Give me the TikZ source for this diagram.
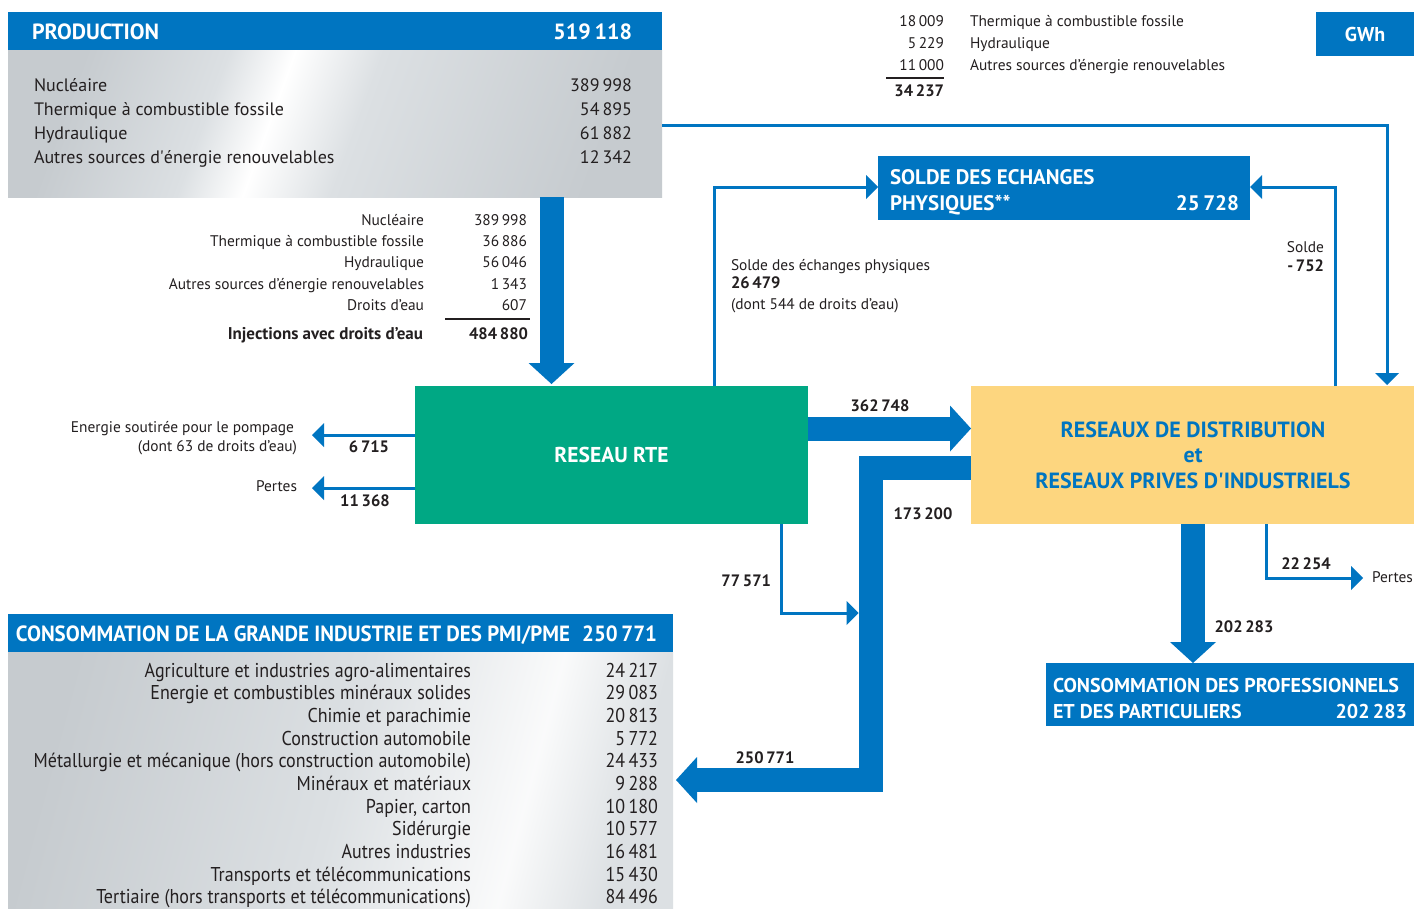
\documentclass[tikz,border=0pt]{standalone}
\usepackage{fontspec}
\setmainfont{PT Sans}
\newfontfamily\condfont[FakeStretch=0.90]{PT Sans}
\newfontfamily\condhead[FakeStretch=0.95]{PT Sans}
\usetikzlibrary{arrows.meta,calc}
\definecolor{rteblue}{RGB}{0,117,193}
\definecolor{rtegreen}{RGB}{0,168,132}
\definecolor{distyellow}{RGB}{253,214,127}
\definecolor{txt}{RGB}{35,31,32}
\definecolor{gA}{RGB}{198,203,207}
\definecolor{gB}{RGB}{220,224,227}
\pgfdeclarehorizontalshading{prodshade}{100bp}{color(0bp)=(gA); color(25bp)=(gA); color(38bp)=(gB); color(44bp)=(white); color(52bp)=(gB); color(75bp)=(gA); color(100bp)=(gA)}
\pgfdeclarehorizontalshading{consshade}{100bp}{color(0bp)=(gA); color(25bp)=(gA); color(50bp)=(gB); color(66bp)=(white!85!gB); color(75bp)=(gB); color(100bp)=(gB)}
\newcommand\fsz[1]{\fontsize{#1}{#1}\selectfont}
\tikzset{
  every node/.style={inner sep=0pt, outer sep=0pt, text=txt},
  boxnode/.style={anchor=north west, draw=none, inner sep=0pt, outer sep=0pt},
  lt/.style={anchor=base west},
  rt/.style={anchor=base east},
  ct/.style={anchor=base},
  thinflow/.style={draw=rteblue, line width=3pt, line join=miter, -{Triangle[length=12pt,width=24pt,line width=0pt]}},
  thickflow/.style={draw=rteblue, line width=24pt, line join=miter, -{Triangle[length=21pt,width=46pt,line width=0pt]}},
  hd/.style={text=white, font=\fsz{22}\bfseries},
  bodyL/.style={font=\fsz{18}},
  small/.style={font=\fsz{15.4}},
  smallb/.style={font=\fsz{16.5}\bfseries},
  flowlab/.style={font=\fsz{16.5}\bfseries},
}
\begin{document}
\begin{tikzpicture}[x=1pt,y=-1pt]
\useasboundingbox (0,0) rectangle (1415,908);
\fill[white] (0,0) rectangle (1415,908);

% ---------- boxes
\node[boxnode, fill=rteblue, minimum width=654pt, minimum height=38pt] (prodhead) at (8,12) {};
\node[boxnode, shading=prodshade, shading angle=-20, minimum width=654pt, minimum height=147pt] (prodbody) at (8,50) {};
\node[boxnode, fill=rteblue, minimum width=98pt, minimum height=44pt] (gwh) at (1316,12) {};
\node[boxnode, fill=rteblue, minimum width=372pt, minimum height=64pt] (solde) at (878,156) {};
\node[boxnode, fill=rtegreen, minimum width=393pt, minimum height=138pt] (rte) at (415,386) {};
\node[boxnode, fill=distyellow, minimum width=443pt, minimum height=138pt] (dist) at (971,386) {};
\node[boxnode, fill=rteblue, minimum width=368pt, minimum height=63pt] (pros) at (1046,663) {};
\node[boxnode, fill=rteblue, minimum width=665pt, minimum height=38pt] (conshead) at (8,614) {};
\node[boxnode, shading=consshade, shading angle=-15, minimum width=665pt, minimum height=256pt] (consbody) at (8,652) {};

% ---------- flows
\draw[thickflow] ($(prodbody.south west)+(543.5,0)$) -- ($(rte.north west)+(136.5,-2)$);
\draw[thinflow] (prodbody.east |- 0,125) -- (1387,125) -- ($(dist.north -| 1387,0)+(0,-1)$);
\draw[thinflow] (rte.north -| 714,0) -- (714,187) -- (solde.west |- 0,187);
\draw[thinflow] (dist.north -| 1335,0) -- (1335,187) -- (solde.east |- 0,187);
\draw[thickflow] (rte.east |- 0,428.5) -- (dist.west |- 0,428.5);
\draw[thickflow] (dist.west |- 0,468) -- (870.5,468) -- (870.5,780) -- ([xshift=3pt]conshead.east |- 0,780);
\draw[thinflow] (rte.south -| 781,0) -- (781,613) -- (858.5,613);
\draw[thinflow] (rte.west |- 0,435) -- (312,435);
\draw[thinflow] (rte.west |- 0,488) -- (312,488);
\draw[thickflow] (dist.south -| 1193,0) -- (pros.north -| 1193,0);
\node[lt, small] (pertesR) at (1372,582) {Pertes};
\draw[thinflow] (dist.south -| 1266,0) -- (1266,578) -- ([xshift=-9pt]pertesR.west |- 0,578);

% ---------- production
\node[lt, hd] (prodt) at (32,39.5) {PRODUCTION};
\node[rt, hd] (prodv) at (632,39.5) {519\,118};
\node[lt, bodyL] (p1) at (34,91) {Nucléaire};
\node[lt, bodyL] (p2) at (34,115) {Thermique à combustible fossile};
\node[lt, bodyL] (p3) at (34,139) {Hydraulique};
\node[lt, bodyL] (p4) at (34,163) {Autres sources d\textquotesingle énergie renouvelables};
\node[rt, bodyL] (pv1) at (632,91) {389\,998};
\node[rt, bodyL] (pv2) at (632,115) {54\,895};
\node[rt, bodyL] (pv3) at (632,139) {61\,882};
\node[rt, bodyL] (pv4) at (632,163) {12\,342};

% ---------- legend top right
\node[rt, small] (l1v) at (944,26) {18\,009};
\node[rt, small] (l2v) at (944,48) {5\,229};
\node[rt, small] (l3v) at (944,70) {11\,000};
\node[lt, small] (l1) at (970,26) {Thermique à combustible fossile};
\node[lt, small] (l2) at (970,48) {Hydraulique};
\node[lt, small] (l3) at (970,70) {Autres sources d’énergie renouvelables};
\draw[txt, line width=1.5pt] (886,78) -- (944,78);
\node[rt, smallb] (ltot) at (944,96) {34\,237};
\node[text=white, font=\fsz{20}\bfseries] (gwht) at (gwh.center) {GWh};

% ---------- injections table
\node[rt, small] (m1) at (424,225) {Nucléaire};
\node[rt, small] (m2) at (424,246) {Thermique à combustible fossile};
\node[rt, small] (m3) at (424,267) {Hydraulique};
\node[rt, small] (m4) at (424,289) {Autres sources d’énergie renouvelables};
\node[rt, small] (m5) at (424,310) {Droits d’eau};
\node[rt, small] (mv1) at (527,225) {389\,998};
\node[rt, small] (mv2) at (527,246) {36\,886};
\node[rt, small] (mv3) at (527,267) {56\,046};
\node[rt, small] (mv4) at (527,289) {1\,343};
\node[rt, small] (mv5) at (527,310) {607};
\draw[txt, line width=2pt] (445,319) -- (530,319);
\node[rt, font=\fsz{17}\bfseries] (m6) at (423,339) {Injections avec droits d’eau};
\node[rt, smallb] (mv6) at (528,339) {484\,880};

% ---------- solde
\node[lt, text=white, font=\fsz{21}\bfseries] (s1) at (890,184.5) {SOLDE DES ECHANGES};
\node[lt, text=white, font=\fsz{21}\bfseries] (s2) at (890,210.5) {PHYSIQUES**};
\node[rt, text=white, font=\fsz{21}\bfseries] (sv) at (1239,210.5) {25\,728};
\node[lt, small] (sa1) at (731,270) {Solde des échanges physiques};
\node[lt, smallb] (sa2) at (731,288) {26\,479};
\node[lt, small] (sa3) at (731,309) {(dont 544 de droits d’eau)};
\node[rt, small] (sb1) at (1324,252) {Solde};
\node[rt, smallb] (sb2) at (1324,271) {-\,752};

% ---------- RTE & distribution
\node[text=white, font=\fsz{21.5}\bfseries] (rtet) at (rte.center) {RESEAU RTE};
\node[ct, text=rteblue, font=\fsz{22}\bfseries] (d1) at (1193,437.5) {RESEAUX DE DISTRIBUTION};
\node[ct, text=rteblue, font=\fsz{22}\bfseries] (d2) at (1193,462.5) {et};
\node[ct, text=rteblue, font=\fsz{22}\bfseries] (d3) at (1193,488.5) {RESEAUX PRIVES D\textquotesingle INDUSTRIELS};

% ---------- flow labels
\node[ct, flowlab] (f1) at (880,411) {362\,748};
\node[ct, flowlab] (f2) at (923,519) {173\,200};
\node[rt, flowlab] (f3) at (771,586) {77\,571};
\node[ct, flowlab] (f4) at (765,763) {250\,771};
\node[ct, flowlab] (f5) at (369,452) {6\,715};
\node[ct, flowlab] (f6) at (365,506) {11\,368};
\node[ct, flowlab] (f7) at (1306,569) {22\,254};
\node[ct, flowlab] (f8) at (1244,632) {202\,283};

\node[rt, small] (e1) at (294,432) {Energie soutirée pour le pompage};
\node[rt, small] (e2) at (297,451) {(dont 63 de droits d’eau)};
\node[rt, small] (e3) at (297,491) {Pertes};

% ---------- professionals
\node[lt, text=white, font=\fsz{20}\bfseries] (pr1) at (1053,692) {CONSOMMATION DES PROFESSIONNELS};
\node[lt, text=white, font=\fsz{20}\bfseries] (pr2) at (1053,718) {ET DES PARTICULIERS};
\node[rt, text=white, font=\fsz{20}\bfseries] (prv) at (1407,718) {202\,283};

% ---------- industry consumption
\node[lt, text=white, font=\condhead\fsz{22}\bfseries] (ch) at (16,641.5) {CONSOMMATION DE LA GRANDE INDUSTRIE ET DES PMI/PME};
\node[rt, text=white, font=\condhead\fsz{22}\bfseries] (chv) at (657,641.5) {250\,771};
\tikzset{cl/.style={rt, font=\condfont\fsz{20}}}
\node[cl] (c1) at (471,677) {Agriculture et industries agro-alimentaires};
\node[cl] (c2) at (471,699) {Energie et combustibles minéraux solides};
\node[cl] (c3) at (471,722) {Chimie et parachimie};
\node[cl] (c4) at (471,745) {Construction automobile};
\node[cl] (c5) at (471,767) {Métallurgie et mécanique (hors construction automobile)};
\node[cl] (c6) at (471,790) {Minéraux et matériaux};
\node[cl] (c7) at (471,813) {Papier, carton};
\node[cl] (c8) at (471,835) {Sidérurgie};
\node[cl] (c9) at (471,858) {Autres industries};
\node[cl] (c10) at (471,881) {Transports et télécommunications};
\node[cl] (c11) at (471,903) {Tertiaire (hors transports et télécommunications)};
\node[cl] (cv1) at (658,677) {24\,217};
\node[cl] (cv2) at (658,699) {29\,083};
\node[cl] (cv3) at (658,722) {20\,813};
\node[cl] (cv4) at (658,745) {5\,772};
\node[cl] (cv5) at (658,767) {24\,433};
\node[cl] (cv6) at (658,790) {9\,288};
\node[cl] (cv7) at (658,813) {10\,180};
\node[cl] (cv8) at (658,835) {10\,577};
\node[cl] (cv9) at (658,858) {16\,481};
\node[cl] (cv10) at (658,881) {15\,430};
\node[cl] (cv11) at (658,903) {84\,496};
\end{tikzpicture}
\end{document}
